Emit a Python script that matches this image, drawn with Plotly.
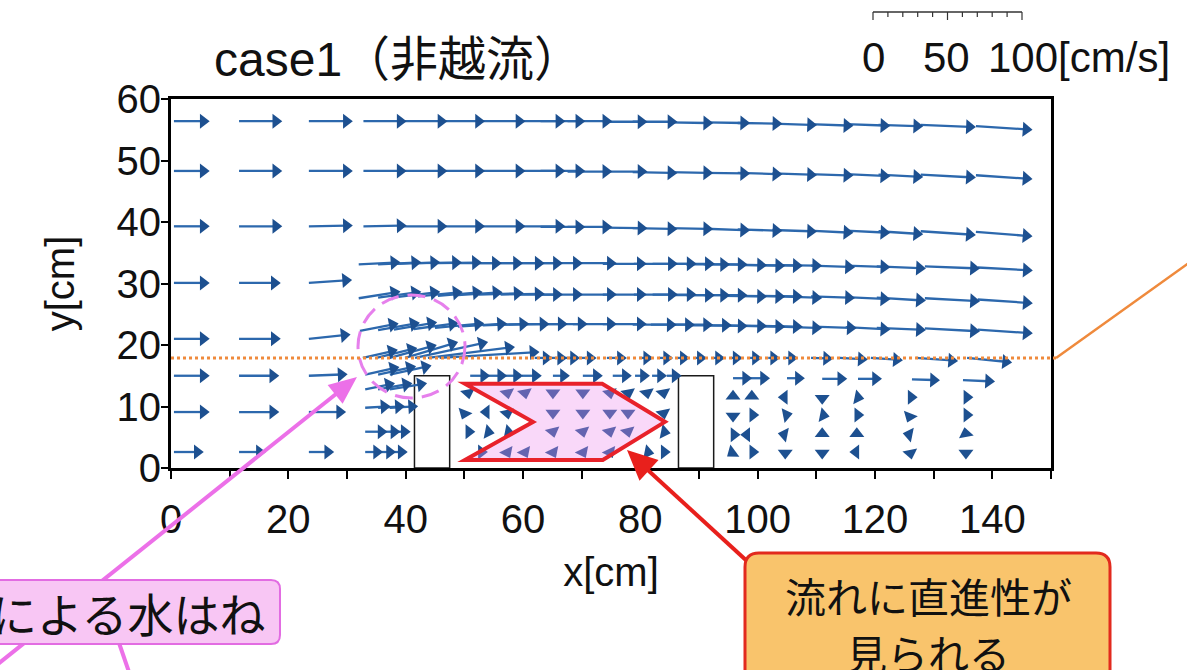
import numpy as np
import plotly.graph_objects as go

# ---------------- figure geometry ----------------
FIG_W, FIG_H = 1187, 670
M_L, M_R, M_T, M_B = 171, 136, 99, 202
X_RANGE = [0, 150]
Y_RANGE = [0, 60]
PLOT_W = FIG_W - M_L - M_R
PLOT_H = FIG_H - M_T - M_B
PX_PER_X = PLOT_W / (X_RANGE[1] - X_RANGE[0])
PX_PER_Y = PLOT_H / (Y_RANGE[1] - Y_RANGE[0])

# ---------------- texts / ticks ----------------
TITLE = "case1（非越流）"
X_LABEL = "x[cm]"
Y_LABEL = "y[cm]"
X_TICKS = [0, 20, 40, 60, 80, 100, 120, 140]
Y_TICKS = [0, 10, 20, 30, 40, 50, 60]
SCALE_LABELS = [0, 50, 100]       # cm/s
SCALE_UNIT = "[cm/s]"
NOTE_SPLASH = "構造物による水はね"
NOTE_STRAIGHT = ["流れに直進性が", "見られる"]

# vector scale: pixels drawn per cm/s
PX_PER_CMS = 1.49

# blocks on the channel bed [cm]
BLOCK_X0 = [41.5, 86.5]
BLOCK_X1 = [47.5, 92.5]
BLOCK_H = [15.0, 15.0]

WATER_LEVEL = 17.9  # cm

# highlighted zone between the blocks (outline vertices, cm)
ZONE_X = [50.1, 73.5, 84.2, 73.6, 50.1, 61.7]
ZONE_Y = [13.7, 13.7, 7.5, 1.3, 1.3, 7.5]

# ---------------- velocity vectors (tail x, tail y [cm], u, v [cm/s]) ----------------
# approach flow upstream of the blocks
up_x = [0.5, 11.6, 23.5, 0.5, 11.6, 23.5, 0.5, 11.6, 23.5, 0.5, 11.6, 23.5,
        0.5, 11.6, 23.5, 0.5, 11.6, 23.5, 0.5, 11.6, 23.5, 0.5, 11.6, 23.5]
up_y = [56.4, 56.4, 56.4, 48.3, 48.3, 48.3, 39.3, 39.3, 39.3, 30.1, 30.1, 30.1,
        21.0, 21.0, 21.0, 15.0, 15.0, 15.0, 9.1, 9.1, 9.1, 2.6, 2.6, 2.6]
up_u = [24, 29, 29.5, 24, 29, 29.5, 24, 29, 29.5, 24, 28, 29,
        24, 28, 28, 24, 27, 26, 24, 27, 25, 20, 18, 17]
up_v = [0, 0, 0, 0, 0, 0, 0, 0, 0.5, 0, 0, 2,
        0, 0, 3, 0, 0, 1, 0, 0, 0, 0, 0, 0]

# upper layers (three rows)
upper_x = [32.8, 39.5, 45.9, 52.8, 59.6, 63.0, 67.6, 73.6, 78.7, 84.8, 91.1, 96.6,
           102.5, 108.7, 115.0, 120.6, 127.8, 137.2]
row_a_y = [56.4, 56.4, 56.4, 56.4, 56.4, 56.4, 56.4, 56.3, 56.3, 56.2, 56.2, 56.1,
           56.0, 55.9, 55.9, 55.8, 55.8, 55.6]
row_a_u = [29, 30, 30, 30, 30, 30, 30, 30, 30, 30, 30, 30, 30, 30, 30, 30, 37, 38]
row_a_v = [0, 0, 0, 0, 0, 0, 0, 0, 0, -0.5, -0.5, -0.5, -1, -1, -1, -1, -1.5, -2.5]
row_b_y = [48.3, 48.3, 48.3, 48.3, 48.3, 48.3, 48.2, 48.2, 48.1, 48.1, 48.0, 48.0,
           47.9, 47.8, 47.8, 47.7, 47.7, 47.6]
row_b_u = [29, 30, 30, 30, 30, 30, 30, 30, 30, 30, 30, 30, 30, 30, 30, 30, 37, 38]
row_b_v = [0, 0, 0, 0, 0, 0, 0, 0, -0.5, -0.5, -0.5, -1, -1, -1, -1.5, -1.5, -2, -2.5]
row_c_y = [39.3, 39.3, 39.3, 39.3, 39.3, 39.2, 39.2, 39.1, 39.0, 39.0, 38.9, 38.8,
           38.7, 38.6, 38.6, 38.5, 38.5, 38.4]
row_c_u = [29, 30, 30, 30, 30, 30, 30, 30, 30, 30, 30, 30, 30, 30, 30, 30, 37, 38]
row_c_v = [0.5, 0, 0, 0, 0, 0, 0, -0.5, -0.5, -0.5, -1, -1, -1, -1.5, -1.5, -2, -2.5, -3]

# middle layers (dense rows)
mid_x = [32.0, 35.3, 38.4, 42.1, 45.5, 48.9, 52.5, 56.2, 59.3, 62.7, 68.5, 73.6, 78.9,
         82.1, 85.2, 87.8, 90.8, 94.1, 97.2, 100.2, 103.5, 109.1, 115.0, 120.3, 128.5, 137.5]
row_d_y = [33.1, 33.1, 33.2, 33.3, 33.3, 33.3, 33.3, 33.3, 33.3, 33.3, 33.3, 33.2, 33.2,
           33.2, 33.2, 33.1, 33.1, 33.1, 33.0, 33.0, 33.0, 32.9, 32.9, 32.8, 32.8, 32.6]
row_d_u = [28, 29, 29.5, 29.5, 29.5, 29.5, 29.5, 29.5, 29.5, 29.5, 29.5, 29.5, 29.5,
           29.5, 29.5, 29.5, 29.5, 29.5, 29.5, 29.5, 29.5, 29.5, 30, 33, 37, 37]
row_d_v = [1.5, 1.5, 1, 0.5, 0.5, 0, 0, 0, 0, 0, 0, 0, 0,
           0, 0, 0, 0, -0.5, -0.5, -0.5, -0.5, -1, -1, -1.5, -1.5, -2]
row_e_y = [27.6, 27.7, 27.8, 27.9, 28.0, 28.1, 28.2, 28.2, 28.2, 28.2, 28.2, 28.2, 28.2,
           28.2, 28.1, 28.1, 28.1, 28.0, 28.0, 28.0, 27.9, 27.9, 27.8, 27.7, 27.6, 27.4]
row_e_u = [28, 29, 29.5, 30, 30, 30, 30, 29.5, 29.5, 29.5, 29.5, 29.5, 29.5,
           29.5, 29.5, 29.5, 29.5, 29.5, 29.5, 29.5, 29.5, 29.5, 30, 33, 37, 37]
row_e_v = [4.5, 4, 3.5, 3, 2.5, 2, 1, 0.5, 0, 0, 0, 0, 0,
           0, 0, 0, 0, -0.5, -0.5, -0.5, -1, -1, -1.5, -2, -2, -2.5]
low_x = [32.2, 35.3, 38.0, 41.4, 45.0, 48.9, 53.2, 56.9, 60.0, 63.4, 68.5, 73.6, 78.7,
         81.8, 84.9, 88.1, 90.8, 94.1, 97.2, 100.2, 103.5, 109.4, 115.0, 120.3, 128.5, 137.5]
row_f_y = [22.3, 22.4, 22.5, 22.6, 22.8, 23.0, 23.2, 23.3, 23.4, 23.4, 23.4, 23.4, 23.3,
           23.3, 23.3, 23.2, 23.2, 23.2, 23.1, 23.1, 23.0, 23.0, 22.9, 22.8, 22.7, 22.5]
row_f_u = [26, 28, 29, 30, 33, 33, 31, 30, 30, 30, 29.5, 29.5, 29.5,
           29.5, 29.5, 29.5, 29.5, 29.5, 29.5, 29.5, 29.5, 29.5, 30, 33, 37, 37]
row_f_v = [5, 5, 5, 4, 3, 2, 1, 0.5, 0, 0, 0, 0, 0,
           0, 0, 0, -0.5, -0.5, -0.5, -0.5, -1, -1, -1.5, -1.5, -2, -2.5]

# splash over the first block
splash_x = [32.7, 35.0, 37.3, 39.9, 41.6, 43.8, 45.8]
splash_y = [17.9, 17.9, 17.9, 17.9, 17.9, 17.9, 17.9]
splash_u = [23.5, 27.5, 31.5, 35.6, 49.0, 58.4, 67.0]
splash_v = [5.4, 6.7, 8.7, 10.7, 10.7, 7.4, 4.0]

# surface row at the water level
surf_x = [62.0, 64.8, 67.0, 69.5, 74.3, 79.8, 83.2, 86.4, 89.3, 92.4, 95.4, 98.7,
          101.8, 104.5, 109.1, 114.0, 119.3, 127.0, 135.7]
surf_y = [17.9, 17.9, 17.9, 17.9, 17.9, 17.9, 17.9, 17.9, 17.9, 17.9, 17.9, 17.9,
          17.9, 17.9, 17.9, 17.9, 17.9, 17.9, 17.9]
surf_u = [12, 10.7, 10.7, 12, 13.4, 9.4, 9.4, 8, 8, 8, 8, 8, 8, 9.4, 14.8, 18.8, 21.5, 28.2, 30.2]
surf_v = [0, 0, 0, 0, 0, 0, 0, 0, 0, 0, 0, 0, 0, 0, -0.5, -1, -1.5, -2, -3]

# row at block-top height between the blocks
gap_x = [51.0, 53.9, 56.6, 59.8, 65.1, 70.2, 75.3, 79.1, 82.0, 84.5]
gap_y = [15.0, 15.0, 15.0, 15.0, 15.0, 15.0, 15.0, 15.0, 15.0, 15.0]
gap_u = [13.4, 13.4, 13.4, 13.4, 11.4, 13.4, 12.8, 10, 10, 10]
gap_v = [0, 0, 0, 0, 0, 0, 0, 0, 0, 0]

# row at block-top height downstream of the second block
wtop_x = [95.8, 98.7, 105.0, 111.0, 117.1, 126.3, 135.0]
wtop_y = [14.6, 14.6, 14.6, 14.5, 14.5, 14.4, 14.3]
wtop_u = [12.8, 13.4, 12, 16.8, 16.1, 18.8, 21.5]
wtop_v = [0, 0, 0, 0, 0, -0.5, -1]

# in front of the first block
front_x = [33.1, 35.3, 37.3, 33.1, 35.3, 37.3, 33.1, 35.3, 37.3, 33.1, 35.3, 37.3, 33.1, 35.3, 37.3]
front_y = [15.2, 15.2, 15.2, 12.8, 12.8, 12.8, 9.8, 9.8, 9.8, 5.9, 5.9, 5.9, 2.6, 2.6, 2.6]
front_u = [23, 25.5, 28, 20, 23, 25, 17, 18, 19, 15, 15, 14, 12, 12, 12]
front_v = [5, 5.5, 6, 4, 4, 4, 1, 1, 1, 0, 0, 0, 0, 0, 0]

# between the blocks
cav_x = [50.6, 57.3, 60.3, 65.1, 70.2, 74.8, 77.9, 81.1, 83.9,
         50.1, 53.9, 57.3, 65.1, 70.2, 74.8, 77.9, 83.9,
         50.6, 53.9, 57.3, 65.1, 70.2, 74.8, 77.9, 83.9,
         53.0, 57.3, 60.3, 65.1, 70.2, 74.8, 81.1, 83.9]
cav_y = [12.4, 12.4, 12.4, 12.4, 12.4, 12.4, 12.4, 12.4, 12.4,
         9.1, 9.1, 9.1, 9.1, 9.1, 9.1, 9.1, 9.1,
         5.9, 5.9, 5.9, 5.9, 5.9, 5.9, 5.9, 5.9,
         2.6, 2.6, 2.6, 2.6, 2.6, 2.6, 2.6, 2.6]
cav_u = [1, 1, 1, 0, 0, 1, 1, 1, 1,
         -2, -5, 1, 0, 0, 0, 0, 1,
         5, 5, 5, 1, 1, 1, 1, 5,
         4, 2, 2, 2, 2, 2, 5, 5]
cav_v = [-5, -5, -5, -5, -5, -5, -5, -5, -5,
         -5, 0, -5, -5, -5, -5, -5, -5,
         0, -1, -1, -4, -4, -4, -4, -1,
         0, -4, -4, -4, -4, -4, -1, 0]

# wake behind the second block
wake_x = [95.8, 99.0, 104.7, 111.0, 116.9, 126.0, 135.5,
          95.8, 99.0, 104.7, 111.0, 116.9, 126.0, 135.5,
          95.8, 98.3, 104.7, 111.0, 116.9, 126.0, 135.5,
          95.8, 99.0, 104.7, 111.0, 116.9, 126.0, 135.5]
wake_y = [11.5, 11.5, 11.5, 11.5, 11.5, 11.5, 11.5,
          8.6, 8.6, 8.6, 8.6, 8.6, 8.6, 8.6,
          5.4, 5.4, 5.4, 5.4, 5.4, 5.4, 5.4,
          2.6, 2.6, 2.6, 2.6, 2.6, 2.6, 2.6]
wake_u = [0, 0, -5, 0, 5, 5, 5,
          0, 5, 5, 5, 5, -2, 5,
          5, -5, -5, 0, 0, -5, -1,
          -4, 5, 0, 0, -5, 1, 0]
wake_v = [5, 5, 0, -5, -1, 0, 0,
          -5, 0, 1, -1, 0, -5, 0,
          0, 0, 1, 5, 5, 1, 5,
          -3, 0, -5, -5, 0, -5, -5]

# ---------------- assemble vectors ----------------
vx = np.array(up_x + upper_x * 3 + mid_x * 2 + low_x + splash_x + surf_x + gap_x
              + wtop_x + front_x + cav_x + wake_x, dtype=float)
vy = np.array(up_y + row_a_y + row_b_y + row_c_y + row_d_y + row_e_y + row_f_y + splash_y
              + surf_y + gap_y + wtop_y + front_y + cav_y + wake_y, dtype=float)
vu = np.array(up_u + row_a_u + row_b_u + row_c_u + row_d_u + row_e_u + row_f_u + splash_u
              + surf_u + gap_u + wtop_u + front_u + cav_u + wake_u, dtype=float)
vv = np.array(up_v + row_a_v + row_b_v + row_c_v + row_d_v + row_e_v + row_f_v + splash_v
              + surf_v + gap_v + wtop_v + front_v + cav_v + wake_v, dtype=float)

HEAD_SIZE = 13
HEAD_R = HEAD_SIZE / 2.0

du_px = vu * PX_PER_CMS
dv_px = vv * PX_PER_CMS
length_px = np.hypot(du_px, dv_px)
dir_x = du_px / length_px
dir_y = dv_px / length_px
tip_x = vx + du_px / PX_PER_X
tip_y = vy + dv_px / PX_PER_Y
head_x = tip_x - HEAD_R * dir_x / PX_PER_X
head_y = tip_y - HEAD_R * dir_y / PX_PER_Y
head_angle = -np.degrees(np.arctan2(dv_px, du_px))

shaft_x, shaft_y = [], []
for x0, y0, x1, y1 in zip(vx, vy, head_x, head_y):
    shaft_x += [x0, x1, None]
    shaft_y += [y0, y1, None]

ARROW_LINE = "#2c68ad"
ARROW_HEAD = "#1d5090"

fig = go.Figure()
fig.add_trace(go.Scatter(x=shaft_x, y=shaft_y, mode="lines",
                         line=dict(color=ARROW_LINE, width=2.3),
                         hoverinfo="skip", showlegend=False))
fig.add_trace(go.Scatter(x=head_x, y=head_y, mode="markers",
                         marker=dict(symbol="triangle-right", size=HEAD_SIZE,
                                     angle=head_angle, color=ARROW_HEAD,
                                     line=dict(width=0)),
                         hoverinfo="skip", showlegend=False))


# ---------------- helpers for pixel-placed decorations ----------------
def px2paper(px, py):
    return (px - M_L) / PLOT_W, (FIG_H - M_B - py) / PLOT_H


def path_from_px(points, close=True):
    parts = []
    for cmd, pts in points:
        coords = " ".join("%.5f,%.5f" % px2paper(*p) for p in pts)
        parts.append(cmd + " " + coords)
    return " ".join(parts) + (" Z" if close else "")


def rounded_box(x0, y0, x1, y1, r):
    return path_from_px([
        ("M", [(x0 + r, y0)]), ("L", [(x1 - r, y0)]), ("Q", [(x1, y0), (x1, y0 + r)]),
        ("L", [(x1, y1 - r)]), ("Q", [(x1, y1), (x1 - r, y1)]),
        ("L", [(x0 + r, y1)]), ("Q", [(x0, y1), (x0, y1 - r)]),
        ("L", [(x0, y0 + r)]), ("Q", [(x0, y0), (x0 + r, y0)]),
    ])


def arrow_head(tail, tip, length, half_w):
    dx, dy = tip[0] - tail[0], tip[1] - tail[1]
    n = (dx * dx + dy * dy) ** 0.5
    ux, uy = dx / n, dy / n
    bx, by = tip[0] - ux * length, tip[1] - uy * length
    p1 = (bx - uy * half_w, by + ux * half_w)
    p2 = (bx + uy * half_w, by - ux * half_w)
    return path_from_px([("M", [tip]), ("L", [p1]), ("L", [p2])])


def paper_line(p0, p1, color, width, dash="solid"):
    x0, y0 = px2paper(*p0)
    x1, y1 = px2paper(*p1)
    return dict(type="line", xref="paper", yref="paper", x0=x0, y0=y0, x1=x1, y1=y1,
                line=dict(color=color, width=width, dash=dash), layer="above")


shapes = []
# blocks
for x0, x1, h in zip(BLOCK_X0, BLOCK_X1, BLOCK_H):
    shapes.append(dict(type="rect", xref="x", yref="y", x0=x0, x1=x1, y0=0, y1=h,
                       line=dict(color="#1a1a1a", width=1.5), fillcolor="white", layer="below"))

# highlighted zone between the blocks
zone_path = "M " + " L ".join("%.2f,%.2f" % (a, b) for a, b in zip(ZONE_X, ZONE_Y)) + " Z"
shapes.append(dict(type="path", xref="x", yref="y", path=zone_path,
                   fillcolor="rgba(236,140,236,0.34)", line=dict(color="#e8222a", width=4),
                   layer="above"))

# dashed circle around the splash
cx0, cy0 = px2paper(358, 398)
cx1, cy1 = px2paper(465, 295)
shapes.append(dict(type="circle", xref="paper", yref="paper", x0=cx0, y0=cy0, x1=cx1, y1=cy1,
                   line=dict(color="#e680ec", width=3, dash="18px,9px"), layer="above"))

# water level line and leader to the right
wl_py = FIG_H - M_B - WATER_LEVEL * PX_PER_Y
shapes.append(paper_line((M_L, wl_py), (1056, wl_py), "#ef8a3c", 3, "dot"))
shapes.append(paper_line((1056, wl_py), (1200, wl_py - 103), "#ef8a3c", 2.5))

# pink call-out
shapes.append(paper_line((-12, 672), (346, 386), "#ec70e8", 4))
shapes.append(dict(type="path", xref="paper", yref="paper",
                   path=arrow_head((-12, 672), (357, 377), 28, 12),
                   fillcolor="#ec70e8", line=dict(width=0), layer="above"))
shapes.append(paper_line((118, 640), (129, 672), "#ec70e8", 4))
shapes.append(dict(type="path", xref="paper", yref="paper",
                   path=rounded_box(-30, 580, 280, 644, 9),
                   fillcolor="#f8c6f4", line=dict(color="#e26ce2", width=2), layer="above"))

# orange call-out
shapes.append(paper_line((748, 562), (638, 461), "#e8201c", 4))
shapes.append(dict(type="path", xref="paper", yref="paper",
                   path=arrow_head((748, 562), (627, 450), 30, 14),
                   fillcolor="#e8201c", line=dict(width=0), layer="above"))
shapes.append(dict(type="path", xref="paper", yref="paper",
                   path=rounded_box(745, 553, 1110, 700, 14),
                   fillcolor="#f9c46c", line=dict(color="#e22a1e", width=3), layer="above"))

# velocity scale bar
SB_X0, SB_Y = 873, 12
sb_len = max(SCALE_LABELS) * PX_PER_CMS
shapes.append(paper_line((SB_X0, SB_Y), (SB_X0 + sb_len, SB_Y), "#333333", 1.5))
for s in range(0, max(SCALE_LABELS) + 1, 10):
    tick_len = 8 if s in SCALE_LABELS else 5
    xs = SB_X0 + s * PX_PER_CMS
    shapes.append(paper_line((xs, SB_Y), (xs, SB_Y + tick_len), "#333333", 1.2))

# ---------------- annotations ----------------
LATIN = "Liberation Sans, Noto Sans CJK JP, sans-serif"
CJK = "Noto Sans CJK JP, sans-serif"
annotations = []


def text_at(px, py, text, size, family=LATIN, xanchor="center", yanchor="middle"):
    x, y = px2paper(px, py)
    annotations.append(dict(xref="paper", yref="paper", x=x, y=y, text=text, showarrow=False,
                            xanchor=xanchor, yanchor=yanchor,
                            font=dict(family=family, size=size, color="#111111")))


text_at(398, 60, TITLE, 48)
text_at(SB_X0 + 0 * PX_PER_CMS, 57, str(SCALE_LABELS[0]), 42)
text_at(946, 57, str(SCALE_LABELS[1]), 42)
text_at(986, 57, str(SCALE_LABELS[2]) + SCALE_UNIT, 42, xanchor="left")
text_at(268, 612, NOTE_SPLASH, 46, family=CJK, xanchor="right")
text_at(928, 595, NOTE_STRAIGHT[0], 41, family=CJK)
text_at(928, 652, NOTE_STRAIGHT[1], 41, family=CJK)

fig.update_layout(
    width=FIG_W, height=FIG_H,
    margin=dict(l=M_L, r=M_R, t=M_T, b=M_B, pad=0),
    paper_bgcolor="white", plot_bgcolor="white",
    showlegend=False, hovermode=False,
    font=dict(family=LATIN, size=40, color="#111111"),
    shapes=shapes, annotations=annotations,
    xaxis=dict(range=X_RANGE, tickvals=X_TICKS, ticks="outside", ticklen=8, tickwidth=2,
               tickcolor="black", showline=True, linecolor="black", linewidth=3, mirror=True,
               showgrid=False, zeroline=False, tickfont=dict(size=40), ticklabelstandoff=6,
               minor=dict(dtick=10, ticks="outside", ticklen=8, tickwidth=2, tickcolor="black"),
               title=dict(text=X_LABEL, font=dict(size=40), standoff=18)),
    yaxis=dict(range=Y_RANGE, tickvals=Y_TICKS, ticks="outside", ticklen=7, tickwidth=2,
               tickcolor="black", showline=True, linecolor="black", linewidth=3, mirror=True,
               showgrid=False, zeroline=False, tickfont=dict(size=40), ticklabelstandoff=-8,
               title=dict(text=Y_LABEL, font=dict(size=40), standoff=30)),
)

fig.write_html("out.html")
